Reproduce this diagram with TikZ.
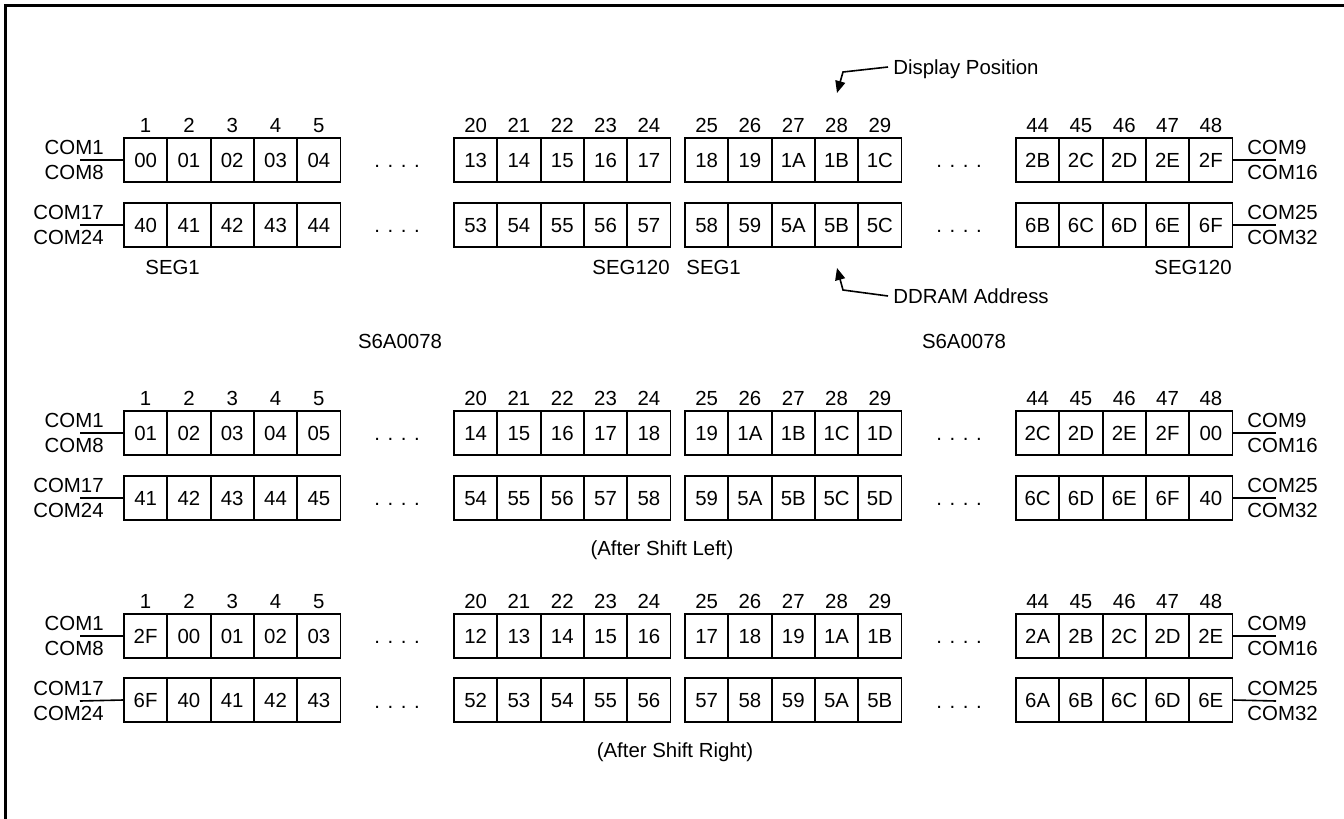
\documentclass[tikz,border=0pt]{standalone}
\usepackage{fontspec}
\setmainfont{Liberation Sans}
\usetikzlibrary{arrows.meta}

% x position of display column #1 (1..20)
\newcommand{\setcolx}[1]{%
  \pgfmathtruncatemacro\grp{(#1-1)/5}%
  \pgfmathsetmacro\colx{{124,454,685,1016}[\grp]+(mod(#1-1,5)+0.5)*43.3}}

\begin{document}
\begin{tikzpicture}[x=0.5pt,y=-0.5pt,
txt/.style={font=\fontsize{10.2}{12}\selectfont,inner sep=0pt,text height=7.3pt,text depth=0pt},
cell/.style={txt,draw,line width=0.9pt,minimum width=21.65pt,minimum height=22pt},
wire/.style={line width=0.8pt},
pointer/.style={line width=0.8pt,-{Triangle[length=6pt,width=5pt]}}]

\useasboundingbox (0,0) rectangle (1344,819);
\draw[line width=1.5pt] (5,819) -- (5,5) -- (1344,5);

% original
\foreach \v [count=\i] in {00,01,02,03,04,13,14,15,16,17,18,19,1A,1B,1C,2B,2C,2D,2E,2F} {
  \setcolx{\i}
  \node[cell] (o-a\i) at (\colx,160) {\v};
}
\foreach \v [count=\i] in {40,41,42,43,44,53,54,55,56,57,58,59,5A,5B,5C,6B,6C,6D,6E,6F} {
  \setcolx{\i}
  \node[cell] (o-b\i) at (\colx,225) {\v};
}

% after shift left
\foreach \v [count=\i] in {01,02,03,04,05,14,15,16,17,18,19,1A,1B,1C,1D,2C,2D,2E,2F,00} {
  \setcolx{\i}
  \node[cell] (l-a\i) at (\colx,433) {\v};
}
\foreach \v [count=\i] in {41,42,43,44,45,54,55,56,57,58,59,5A,5B,5C,5D,6C,6D,6E,6F,40} {
  \setcolx{\i}
  \node[cell] (l-b\i) at (\colx,498) {\v};
}

% after shift right
\foreach \v [count=\i] in {2F,00,01,02,03,12,13,14,15,16,17,18,19,1A,1B,2A,2B,2C,2D,2E} {
  \setcolx{\i}
  \node[cell] (r-a\i) at (\colx,636) {\v};
}
\foreach \v [count=\i] in {6F,40,41,42,43,52,53,54,55,56,57,58,59,5A,5B,6A,6B,6C,6D,6E} {
  \setcolx{\i}
  \node[cell] (r-b\i) at (\colx,700) {\v};
}

% positions, COM lines and dots
\foreach \blk/\yy in {o/160,l/433,r/636} {
  \foreach \n [count=\i] in {1,2,3,4,5,20,21,22,23,24,25,26,27,28,29,44,45,46,47,48} {
    \setcolx{\i}
    \node[txt] (\blk-h\i) at (\colx,\yy-35) {\n};
  }
  \node[txt,anchor=east] (\blk-com1) at (104,\yy-13) {COM1};
  \node[txt,anchor=east] (\blk-com8) at (104,\yy+12) {COM8};
  \node[txt,anchor=east] (\blk-com17) at (104,\yy+52) {COM17};
  \node[txt,anchor=east] (\blk-com24) at (104,\yy+77) {COM24};
  \node[txt,anchor=west] (\blk-com9) at (1247,\yy-13) {COM9};
  \node[txt,anchor=west] (\blk-com16) at (1247,\yy+12) {COM16};
  \node[txt,anchor=west] (\blk-com25) at (1247,\yy+52) {COM25};
  \node[txt,anchor=west] (\blk-com32) at (1247,\yy+77) {COM32};
  \coordinate (\blk-wl1) at (80,\yy);
  \coordinate (\blk-wl2) at (80,\yy+65);
  \coordinate (\blk-wr1) at (1276,\yy);
  \coordinate (\blk-wr2) at (1276,\yy+65);
  \draw[wire] (\blk-wl1) -- (\blk-a1.west);
  \draw[wire] (\blk-wl2) -- (\blk-b1.west);
  \draw[wire] (\blk-a20.east) -- (\blk-wr1);
  \draw[wire] (\blk-b20.east) -- (\blk-wr2);
  \node[txt,anchor=base] (\blk-dot1) at (397,\yy+7) {. . . .};
  \node[txt,anchor=base] (\blk-dot2) at (397,\yy+72) {. . . .};
  \node[txt,anchor=base] (\blk-dot3) at (959,\yy+7) {. . . .};
  \node[txt,anchor=base] (\blk-dot4) at (959,\yy+72) {. . . .};
}

\node[txt,anchor=west] (seg1a) at (145,267) {SEG1};
\node[txt,anchor=east] (seg120a) at (670,267) {SEG120};
\node[txt,anchor=west] (seg1b) at (686,267) {SEG1};
\node[txt,anchor=east] (seg120b) at (1232,267) {SEG120};

\node[txt] (chipa) at (400,341) {S6A0078};
\node[txt] (chipb) at (964,341) {S6A0078};

\node[txt] (shl) at (662,548) {(After Shift Left)};
\node[txt] (shr) at (675,750) {(After Shift Right)};

\node[txt,anchor=west,inner sep=2.5pt] (dispos) at (888,67) {Display Position};
\coordinate (dpbend) at (843,72);
\coordinate (dptip) at (837,93);
\draw[pointer] (dispos.west) -- (dpbend) -- (dptip);

\node[txt,anchor=west,inner sep=2.5pt] (ddram) at (888,296) {DDRAM Address};
\coordinate (ddbend) at (843,290);
\coordinate (ddtip) at (837,268);
\draw[pointer] (ddram.west) -- (ddbend) -- (ddtip);

\end{tikzpicture}
\end{document}
